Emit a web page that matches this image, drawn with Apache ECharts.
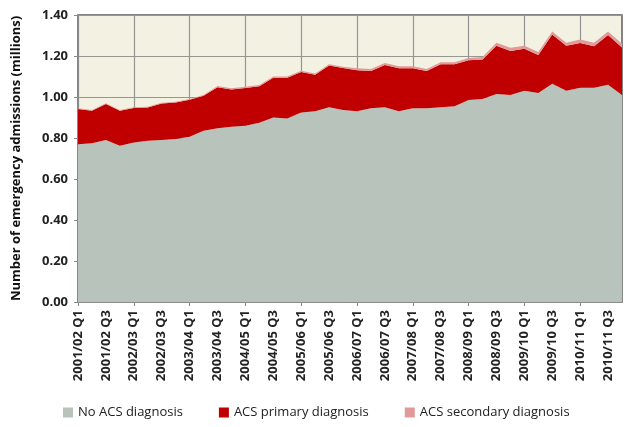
<!DOCTYPE html>
<html>
<head>
<meta charset="utf-8">
<script src="https://cdn.jsdelivr.net/npm/echarts@6/dist/echarts.min.js"></script>
<style>
  html, body { margin: 0; padding: 0; background: #fff; }
  #chart { width: 625px; height: 427px; }
</style>
</head>
<body>
<div id="chart"></div>
<script>
// quarters 2001/02 Q1 .. 2010/11 Q4
const years = ['2001/02', '2002/03', '2003/04', '2004/05', '2005/06',
  '2006/07', '2007/08', '2008/09', '2009/10', '2010/11'];
const quarters = [];
years.forEach((y) => {
  for (let q = 1; q <= 4; q++) quarters.push(y + ' Q' + q);
});

// values in millions
const noAcs = [0.770, 0.775, 0.790, 0.762, 0.778, 0.787, 0.790, 0.795, 0.806, 0.835,
  0.847, 0.855, 0.860, 0.875, 0.900, 0.895, 0.925, 0.930, 0.950, 0.937,
  0.930, 0.945, 0.950, 0.930, 0.945, 0.945, 0.950, 0.955, 0.985, 0.990,
  1.015, 1.010, 1.030, 1.020, 1.065, 1.030, 1.045, 1.045, 1.060, 1.010];

const acsPrimary = [0.171, 0.158, 0.176, 0.171, 0.168, 0.162, 0.178, 0.178, 0.180, 0.171,
  0.201, 0.182, 0.184, 0.177, 0.194, 0.199, 0.197, 0.179, 0.204, 0.205,
  0.200, 0.182, 0.206, 0.210, 0.195, 0.182, 0.210, 0.205, 0.194, 0.193,
  0.235, 0.215, 0.205, 0.185, 0.240, 0.220, 0.218, 0.203, 0.242, 0.232];

const acsSecondary = [0.004, 0.004, 0.004, 0.004, 0.004, 0.004, 0.004, 0.004, 0.004, 0.004,
  0.006, 0.006, 0.006, 0.006, 0.006, 0.006, 0.006, 0.006, 0.006, 0.006,
  0.010, 0.010, 0.010, 0.010, 0.010, 0.010, 0.010, 0.010, 0.011, 0.012,
  0.015, 0.015, 0.015, 0.015, 0.015, 0.015, 0.017, 0.017, 0.018, 0.018];

const chart = echarts.init(document.getElementById('chart'));

const areaSeries = (name, data, color) => ({
  name: name,
  type: 'line',
  stack: 'total',
  data: data,
  symbol: 'none',
  lineStyle: { width: 0 },
  areaStyle: { color: color, opacity: 1 },
  itemStyle: { color: color },
});

const option = {
  animation: false,
  textStyle: { fontFamily: 'Open Sans' },
  grid: {
    left: 78, right: 3, top: 15, bottom: 125,
    show: true,
    backgroundColor: '#f3f1e2',
    borderColor: '#5e5e5e',
    borderWidth: 1.5,
  },
  legend: {
    bottom: 3,
    left: 58,
    itemWidth: 10,
    itemHeight: 10,
    itemGap: 36,
    icon: 'rect',
    textStyle: { fontSize: 13, color: '#222', fontFamily: 'Open Sans' },
    data: ['No ACS diagnosis', 'ACS primary diagnosis', 'ACS secondary diagnosis'],
  },
  xAxis: {
    type: 'category',
    boundaryGap: false,
    data: quarters,
    axisLine: { lineStyle: { color: '#8a8a8a', width: 1 } },
    axisTick: {
      show: true,
      length: 4,
      interval: (i) => i % 4 === 0,
      lineStyle: { color: '#8a8a8a' },
    },
    axisLabel: {
      interval: 1,
      rotate: 90,
      fontSize: 13,
      fontWeight: 'bold',
      color: '#222',
      margin: 8,
    },
    splitLine: {
      show: true,
      interval: (i) => i % 4 === 0,
      lineStyle: { color: '#959595', width: 1.2 },
    },
  },
  yAxis: {
    type: 'value',
    min: 0,
    max: 1.4,
    interval: 0.2,
    name: 'Number of emergency admissions (millions)',
    nameLocation: 'middle',
    nameGap: 55,
    nameTextStyle: { fontSize: 13, fontWeight: 'bold', color: '#111' },
    axisLine: { show: true, lineStyle: { color: '#8a8a8a' } },
    axisTick: { show: true, length: 4, lineStyle: { color: '#8a8a8a' } },
    axisLabel: {
      formatter: (v) => v.toFixed(2),
      fontSize: 13,
      fontWeight: 'bold',
      color: '#222',
      margin: 10,
    },
    splitLine: { show: true, lineStyle: { color: '#959595', width: 1.2 } },
  },
  series: [
    areaSeries('No ACS diagnosis', noAcs, '#b7c3bb'),
    areaSeries('ACS primary diagnosis', acsPrimary, '#c00000'),
    areaSeries('ACS secondary diagnosis', acsSecondary, '#e09a9a'),
  ],
};

chart.setOption(option);
</script>
</body>
</html>
